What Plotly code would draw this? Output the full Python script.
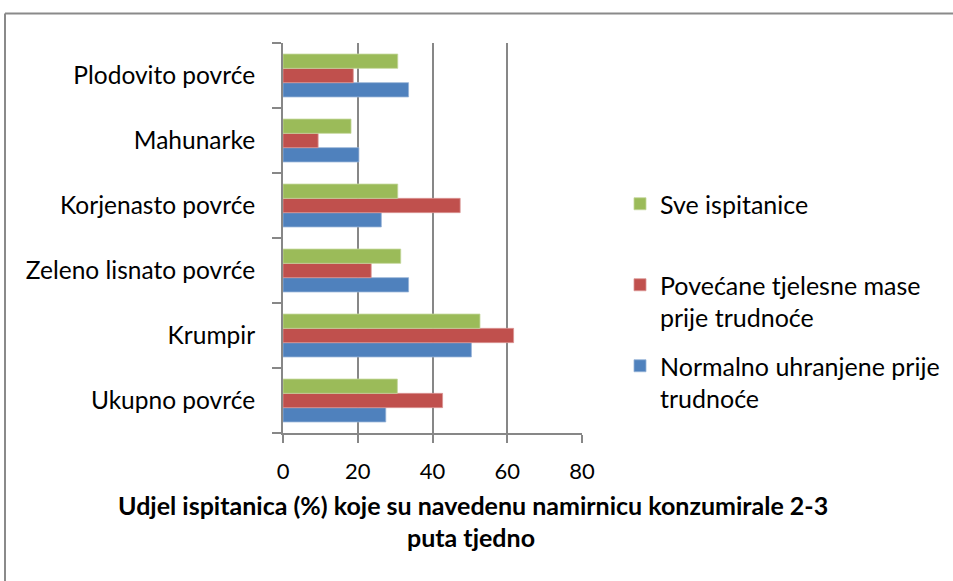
import plotly.graph_objects as go

categories = ["Ukupno povrće", "Krumpir", "Zeleno lisnato povrće",
              "Korjenasto povrće", "Mahunarke", "Plodovito povrće"]
normalno = [27.5, 50.4, 33.6, 26.3, 20.3, 33.6]
povecane = [42.7, 61.7, 23.6, 47.4, 9.4, 18.8]
sve = [30.6, 52.7, 31.5, 30.7, 18.2, 30.7]
series_names = ["Normalno uhranjene prije<br>trudnoće",
                "Povećane tjelesne mase<br>prije trudnoće",
                "Sve ispitanice<br>&nbsp;"]
series_colors = ["#4F81BD", "#C0504D", "#9BBB59"]
series_edges = ["#95B3D7", "#DA9694", "#C4D79B"]
legend_ranks = [3, 2, 1]
x_ticks = [0, 20, 40, 60, 80]
title_lines = ["Udjel ispitanica (%) koje su navedenu namirnicu konzumirale 2-3",
               "puta tjedno"]

W, H = 953, 581
OFF = 0  # page offset of the figure in the screenshot (body margin removed)
# target plot area in screenshot pixels
PX0, PX1, PY0, PY1 = 283, 582, 43, 433
L, R = PX0 - OFF, W - (PX1 - OFF)
T, B = PY0 - OFF, H - (PY1 - OFF)
pw, ph = W - L - R, H - T - B

def px_x(p):
    return (p - OFF - L) / pw

def px_y(p):
    return (H - B - (p - OFF)) / ph

fig = go.Figure()
for name, vals, col, edge, rk in zip(series_names, [normalno, povecane, sve],
                                     series_colors, series_edges, legend_ranks):
    fig.add_trace(go.Bar(
        y=categories, x=vals, name=name, orientation="h",
        marker=dict(color=col, line=dict(color=edge, width=0.8)),
        legendgroup=name, legendrank=rk,
    ))

FONT = "Lato, Carlito, Calibri, sans-serif"
border = dict(color="#8a8a8a", width=2)

fig.update_layout(
    width=W, height=H,
    margin=dict(l=L, r=R, t=T, b=B, autoexpand=False),
    paper_bgcolor="white", plot_bgcolor="white",
    barmode="group", bargap=0.34, bargroupgap=0,
    font=dict(family=FONT, size=24, color="#000000"),
    showlegend=True,
    legend=dict(
        x=px_x(620), y=px_y(181), xanchor="left", yanchor="top",
        traceorder="grouped", tracegroupgap=13, valign="top",
        font=dict(family=FONT, size=25, color="#000000"),
        itemwidth=30, bgcolor="rgba(0,0,0,0)",
    ),
    xaxis=dict(
        range=[0, 80], tickvals=x_ticks, showgrid=True,
        gridcolor="#878787", gridwidth=2,
        showline=True, linecolor="#878787", linewidth=2,
        ticks="outside", ticklen=8, tickwidth=2, tickcolor="#878787",
        tickfont=dict(family=FONT, size=22, color="#000000"),
        ticklabelstandoff=10, zeroline=False, fixedrange=True,
    ),
    yaxis=dict(
        type="category", categoryorder="array", categoryarray=categories,
        showgrid=False, showline=True, linecolor="#878787", linewidth=2,
        ticks="outside", ticklen=9, tickwidth=2, tickcolor="#878787",
        tickson="boundaries",
        tickfont=dict(family=FONT, size=24.5, color="#000000"),
        ticklabelstandoff=21, zeroline=False, fixedrange=True,
    ),
    shapes=[
        dict(type="line", xref="paper", yref="paper",
             x0=px_x(5), x1=px_x(1000), y0=px_y(13.5), y1=px_y(13.5),
             line=border, layer="below"),
        dict(type="line", xref="paper", yref="paper",
             x0=px_x(5), x1=px_x(5), y0=px_y(13.5), y1=px_y(640),
             line=border, layer="below"),
    ],
    annotations=[
        dict(text="<b>" + title_lines[0] + "</b>", xref="paper", yref="paper",
             x=px_x(473), y=px_y(505), xanchor="center", yanchor="middle",
             showarrow=False, font=dict(family=FONT, size=25, color="#000000")),
        dict(text="<b>" + title_lines[1] + "</b>", xref="paper", yref="paper",
             x=px_x(471), y=px_y(537), xanchor="center", yanchor="middle",
             showarrow=False, font=dict(family=FONT, size=25, color="#000000")),
    ],
)

fig.write_html("out.html",
               config={"displayModeBar": False},
               post_script="document.body.style.margin='0px';document.body.style.overflow='hidden';")
